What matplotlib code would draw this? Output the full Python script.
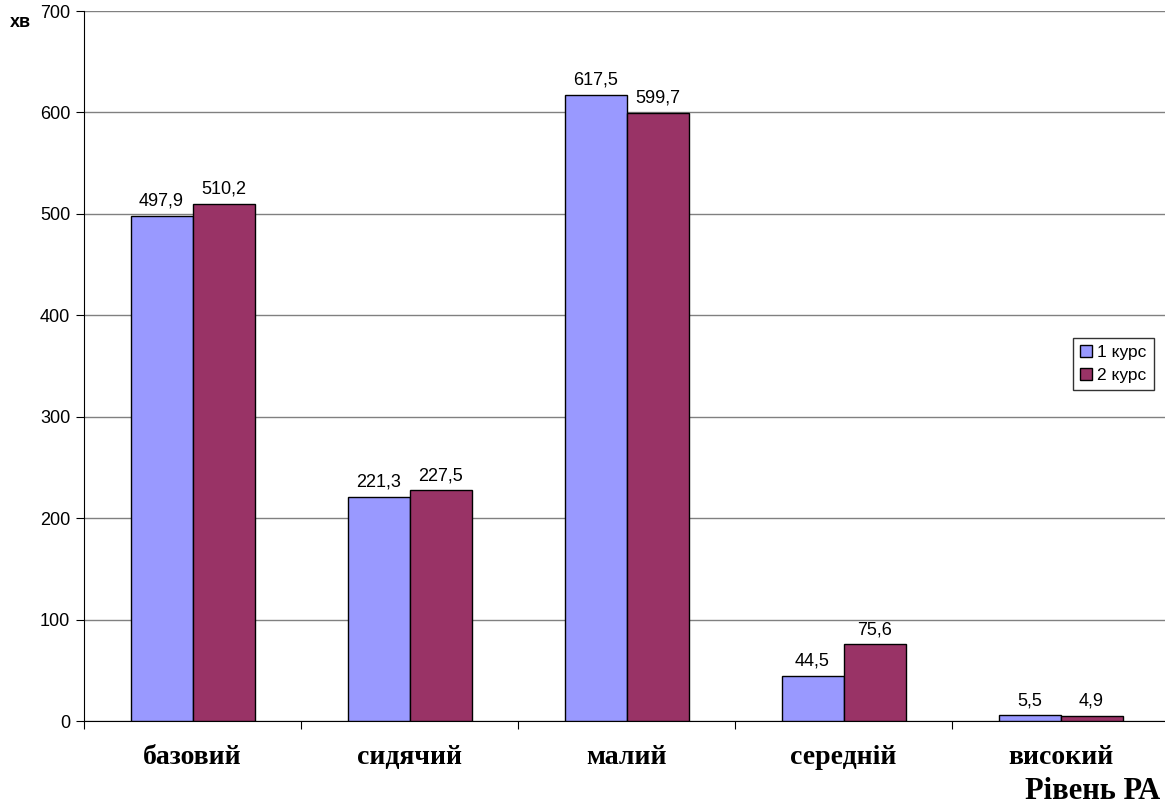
import matplotlib.pyplot as plt
import numpy as np

categories = ['базовий', 'сидячий', 'малий', 'середній', 'високий']
course1 = [497.9, 221.3, 617.5, 44.5, 5.5]
course2 = [510.2, 227.5, 599.7, 75.6, 4.9]
labels1 = ['497,9', '221,3', '617,5', '44,5', '5,5']
labels2 = ['510,2', '227,5', '599,7', '75,6', '4,9']
series_names = ['1 курс', '2 курс']

plt.rcParams['font.family'] = ['Liberation Sans', 'DejaVu Sans']

fig = plt.figure(figsize=(11.65, 8.09), dpi=100)
ax = fig.add_axes([84 / 1165, 88 / 809, 1085 / 1165, 710 / 809])

x = np.arange(len(categories))
w = 1 / 3.5
b1 = ax.bar(x - w / 2, course1, w, color='#9999FF', edgecolor='black', linewidth=1, label=series_names[0], zorder=3)
b2 = ax.bar(x + w / 2, course2, w, color='#993366', edgecolor='black', linewidth=1, label=series_names[1], zorder=3)

for rect, lab in zip(b1, labels1):
    ax.text(rect.get_x() + rect.get_width() / 2, rect.get_height() + 6, lab,
            ha='center', va='bottom', fontsize=13)
for rect, lab in zip(b2, labels2):
    ax.text(rect.get_x() + rect.get_width() / 2, rect.get_height() + 6, lab,
            ha='center', va='bottom', fontsize=13)

ax.set_xlim(-0.5, len(categories) - 0.5)
ax.set_ylim(0, 700)
ax.set_yticks(np.arange(0, 701, 100))
ax.tick_params(axis='y', labelsize=13, length=6, direction='out', pad=4)
ax.grid(axis='y', color='#808080', linewidth=1, zorder=0)

# category ticks between groups, labels centred under groups
ax.set_xticks(np.arange(-0.5, len(categories), 1))
ax.set_xticklabels([])
ax.set_xticks(x, minor=True)
ax.set_xticklabels(categories, minor=True, fontsize=20, fontweight='bold',
                   family='Liberation Serif')
ax.tick_params(axis='x', which='minor', length=0, pad=17)
ax.tick_params(axis='x', which='major', length=6, direction='out')

for s in ['top', 'right']:
    ax.spines[s].set_visible(False)
ax.spines['left'].set_color('black')
ax.spines['bottom'].set_color('black')

fig.text(10 / 1165, 1 - 27 / 809, 'хв', fontsize=13, fontweight='bold', va='baseline')
fig.text(1160 / 1165, 3 / 809, 'Рівень РА', fontsize=22, fontweight='bold',
         family='Liberation Serif', va='bottom', ha='right')

leg = ax.legend(loc='upper left', bbox_to_anchor=(1073 / 1165, 1 - 338 / 809),
                bbox_transform=fig.transFigure, fontsize=12.5, frameon=True,
                fancybox=False, edgecolor='black', handlelength=0.7, handleheight=0.7,
                handletextpad=0.3, borderpad=0.4, labelspacing=0.45, borderaxespad=0)
leg.get_frame().set_linewidth(1)

fig.savefig('out.png', dpi=100)
